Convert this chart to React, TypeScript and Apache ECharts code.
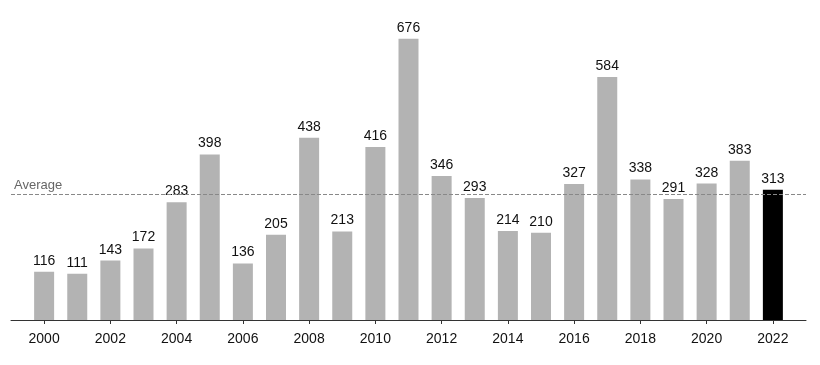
import React, { useEffect, useRef } from "react";
import * as echarts from "echarts";

const years = [
  "2000", "2001", "2002", "2003", "2004", "2005", "2006", "2007", "2008", "2009", "2010", "2011",
  "2012", "2013", "2014", "2015", "2016", "2017", "2018", "2019", "2020", "2021", "2022",
];
const values = [
  116, 111, 143, 172, 283, 398, 136, 205, 438, 213, 416, 676,
  346, 293, 214, 210, 327, 584, 338, 291, 328, 383, 313,
];
const highlightYear = "2022";
const averageLabel = "Average";

export default function App() {
  const ref = useRef<HTMLDivElement>(null);
  useEffect(() => {
    if (!ref.current) return;
    const chart = echarts.init(ref.current, null, { renderer: "svg" });
    const cats = ["", ...years, ""];
    const avg = values.reduce((a, b) => a + b, 0) / values.length;
    const data: any[] = [
      null,
      ...values.map((v, i) => ({
        value: v,
        itemStyle: { color: years[i] === highlightYear ? "#000000" : "#b3b3b3" },
      })),
      null,
    ];
    const font = "'Liberation Sans', Arial, Helvetica, sans-serif";
    chart.setOption({
      animation: false,
      grid: { left: 11, right: 14, top: 8, bottom: 45 },
      xAxis: {
        type: "category",
        data: cats,
        boundaryGap: false,
        axisLine: { show: true, lineStyle: { color: "#333", width: 1 } },
        axisTick: {
          show: true,
          length: 4,
          lineStyle: { color: "#333" },
          interval: (i: number) => i >= 1 && i <= years.length && (i - 1) % 2 === 0,
        },
        axisLabel: {
          interval: (i: number) => i >= 1 && i <= years.length && (i - 1) % 2 === 0,
          color: "#111",
          fontSize: 14,
          fontFamily: font,
          margin: 11,
        },
        splitLine: { show: false },
      },
      yAxis: {
        type: "value",
        min: 0,
        max: 750,
        show: false,
        splitLine: { show: false },
      },
      series: [
        {
          type: "bar",
          data,
          barWidth: 20,
          label: {
            show: true,
            position: "top",
            distance: 5,
            color: "#111",
            fontSize: 14,
            fontFamily: font,
          },
          markLine: {
            symbol: "none",
            silent: true,
            lineStyle: { type: [4, 2], color: "#888", width: 1 },
            label: {
              show: true,
              position: "insideStartTop",
              formatter: averageLabel,
              color: "#666",
              fontSize: 13,
              fontFamily: font,
              distance: [3, 4],
            },
            data: [{ yAxis: avg }],
          },
        },
      ],
    });
    return () => chart.dispose();
  }, []);
  return (
    <div
      ref={ref}
      style={{ position: "fixed", left: 0, top: 0, width: 820, height: 365 }}
    />
  );
}
